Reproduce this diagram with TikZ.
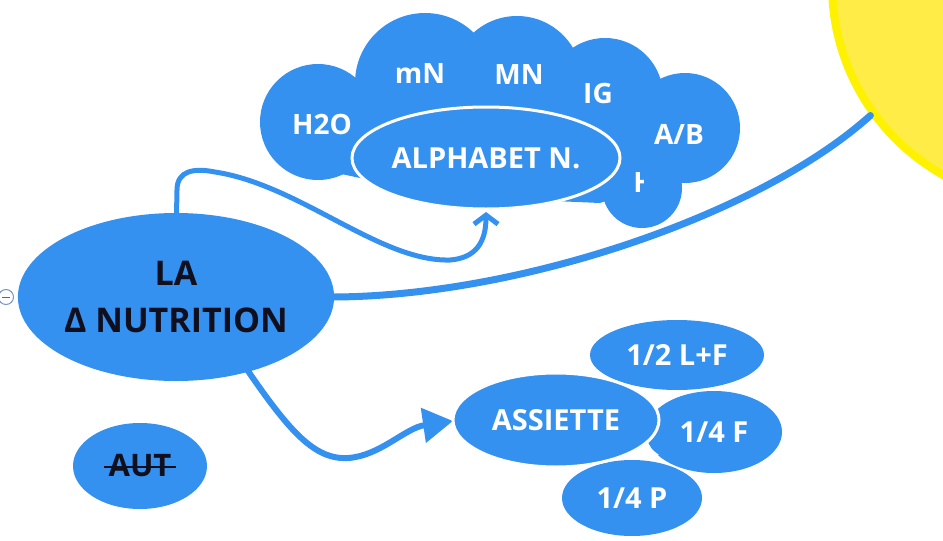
\documentclass[tikz,border=0pt]{standalone}
\usepackage{fontspec}
\setmainfont{Open Sans}
\usetikzlibrary{shapes.geometric,arrows.meta,calc}
\definecolor{mmblue}{RGB}{52,145,240}
\definecolor{sunfill}{RGB}{255,236,70}
\definecolor{sunedge}{RGB}{255,242,0}
\definecolor{darktext}{RGB}{15,15,30}
\definecolor{togglerim}{RGB}{120,150,190}
\begin{document}
\begin{tikzpicture}[x=1pt,y=-1pt,
  bubble/.style={ellipse, fill=mmblue, inner sep=0pt, text=white,
    font=\bfseries\fontsize{29}{32}\selectfont},
  rimmed/.style={draw=white, line width=3pt},
  cloudtxt/.style={inner sep=0pt, text=white, font=\bfseries\fontsize{28}{32}\selectfont},
  conn/.style={draw=mmblue, line cap=round}]
\useasboundingbox (0,0) rectangle (943,541);
\fill[white] (0,0) rectangle (943,541);

% sun
\node[circle, fill=sunfill, draw=sunedge, line width=8pt, minimum size=436pt, inner sep=0pt] (sun) at (1050,-15) {};

% long connector
\draw[conn, line width=7pt] (334,297) .. controls (520,296) and (760,215) .. (sun.216);

% cloud
\fill[mmblue] (318,122) circle (58pt) (425,83) circle (70pt) (517,81) circle (65pt)
  (605,96) circle (58pt) (685,128) circle (55pt) (642,188) circle (40pt);
\fill[mmblue] (318,122) -- (425,83) -- (517,81) -- (605,96) -- (685,128) -- (642,188)
  -- (600,203) -- (486,198) -- (360,178) -- (300,165) -- cycle;
\node[cloudtxt] (h2o) at (322,124) {H2O};
\node[cloudtxt] (mn) at (420,74) {mN};
\node[cloudtxt] (bigmn) at (519,75) {MN};
\node[cloudtxt] (ig) at (598,93) {IG};
\node[cloudtxt] (ab) at (679,134) {A/B};
\begin{scope}
  \clip (620,160) rectangle (643,205);
  \node[cloudtxt] (hpart) at (644,183) {H};
\end{scope}

% connectors beneath the main node
\coordinate (mainc) at (176,297);
\draw[conn, line width=5pt, -{Straight Barb[length=9pt,width=24pt]}]
  (176,240) -- (177,190) .. controls (177,170) and (195,168) .. (215,172)
  .. controls (300,185) and (380,262) .. (450,260)
  .. controls (476,258) and (486,242) .. (486,212);
\draw[conn, line width=6pt, -{Triangle[length=30pt,width=34pt]}]
  (240,360) -- (248,371) .. controls (290,432) and (315,460) .. (348,458)
  .. controls (380,456) and (405,428) .. (453,421);

\node[bubble, minimum width=316pt, minimum height=168pt, text=darktext, align=center,
  font=\bfseries\fontsize{34}{47}\selectfont] (main) at (mainc) {LA\\Δ NUTRITION};

\node[circle, draw=togglerim, fill=white, line width=1pt, minimum size=15pt, inner sep=0pt] (toggle) at (6,297) {};
\draw[red!50!gray, line width=0.8pt] ($(toggle.center)+(-4,0)$) -- ($(toggle.center)+(4,0)$);

% alphabet
\node[bubble, rimmed, minimum width=268pt, minimum height=102pt] (alpha) at (486,158) {ALPHABET N.};

% assiette cluster
\node[bubble, minimum width=174pt, minimum height=70pt] (half) at (677,355) {1/2 L+F};
\node[bubble, minimum width=136pt, minimum height=82pt] (qf) at (714,432) {1/4 F};
\node[bubble, minimum width=140pt, minimum height=76pt] (qp) at (632,498) {1/4 P};
\node[bubble, rimmed, minimum width=206pt, minimum height=94pt] (assiette) at (556,420) {ASSIETTE};
\fill[white] (655,398) -- (663,402) -- (656,408) -- cycle;
\fill[white] (650,448) -- (659,455) -- (650,456) -- cycle;

% AUT
\node[bubble, minimum width=134pt, minimum height=86pt, text=darktext,
  font=\bfseries\fontsize{31}{34}\selectfont] (aut) at (140,466) {AUT};
\draw[darktext, line width=1.8pt] ($(aut.center)+(-36,1)$) -- ($(aut.center)+(36,1)$);
\end{tikzpicture}
\end{document}
